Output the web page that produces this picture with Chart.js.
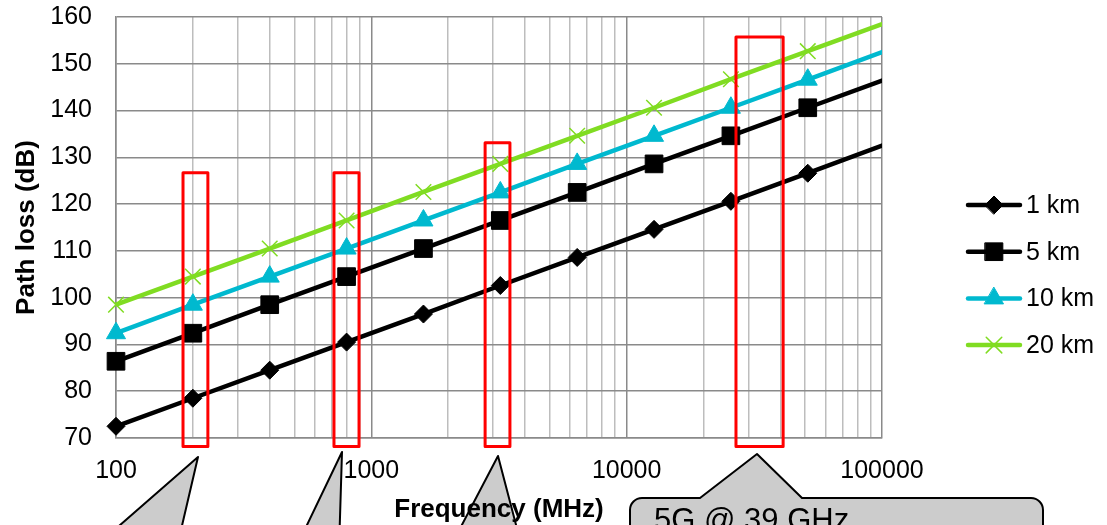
<!DOCTYPE html>
<html>
<head>
<meta charset="utf-8">
<style>
  html, body { margin: 0; padding: 0; background: #fff; }
  #wrap { width: 1107px; height: 525px; }
</style>
<script src="https://cdn.jsdelivr.net/npm/chart.js@4.4.1/dist/chart.umd.min.js"></script>
</head>
<body>
<div id="wrap"><canvas id="chart" width="1107" height="525"></canvas></div>
<script>
// data
const frequencies = [100, 200, 400, 800, 1600, 3200, 6400, 12800, 25600, 51200, 102400];
const seriesNames = ["1 km", "5 km", "10 km", "20 km"];
const loss1km = [72.5, 78.5, 84.5, 90.5, 96.5, 102.6, 108.6, 114.6, 120.6, 126.6, 132.7];
const loss5km = [86.4, 92.4, 98.5, 104.5, 110.5, 116.5, 122.5, 128.6, 134.6, 140.6, 146.6];
const loss10km = [92.4, 98.5, 104.5, 110.5, 116.5, 122.5, 128.6, 134.6, 140.6, 146.6, 152.7];
const loss20km = [98.5, 104.5, 110.5, 116.5, 122.6, 128.6, 134.6, 140.6, 146.7, 152.7, 158.7];
const yTickValues = [70, 80, 90, 100, 110, 120, 130, 140, 150, 160];
const xTickLabels = [100, 1000, 10000, 100000];

// highlighted bands (MHz from, MHz to, top in dB)
const bandFrom = [183, 714, 2790, 26800];
const bandTo = [229, 895, 3490, 41000];
const bandTop = [126.7, 126.7, 133.1, 155.7];

const FONT = '"Liberation Sans", Arial, sans-serif';
const MAJOR = "#8a8a8a";
const MINOR = "#bdbdbd";
const X_MIN = 100;
const X_MAX = 100000;

const styles = [
  { color: "#000000", pointStyle: "rectRot", radius: 9, border: 1 },
  { color: "#000000", pointStyle: "rect", radius: 12.5, border: 1 },
  { color: "#00b9cf", pointStyle: "triangle", radius: 11, border: 1 },
  { color: "#80dc22", pointStyle: "crossRot", radius: 11, border: 1.5 },
];

function xGridValues() {
  const values = [];
  for (let decade = X_MIN; decade < X_MAX; decade *= 10) {
    for (let m = 1; m < 10; m++) values.push(decade * m);
  }
  values.push(X_MAX);
  return values;
}

function makeDataset(index, values) {
  const s = styles[index];
  return {
    label: seriesNames[index],
    data: frequencies.map((f, i) => ({ x: f, y: values[i] })),
    borderColor: s.color,
    backgroundColor: s.color,
    borderWidth: 4.5,
    pointStyle: s.pointStyle,
    pointRadius: (ctx) => (ctx.raw && ctx.raw.x > X_MAX ? 0 : s.radius),
    pointHoverRadius: 0,
    pointBorderWidth: s.border,
    pointBackgroundColor: s.color,
    pointBorderColor: s.color,
    tension: 0,
    clip: { left: false, top: false, right: 0, bottom: false },
  };
}

function drawMarker(ctx, s, x, y) {
  ctx.save();
  ctx.fillStyle = s.color;
  ctx.strokeStyle = s.color;
  ctx.lineWidth = s.border;
  if (Chart.helpers && Chart.helpers.drawPoint) {
    Chart.helpers.drawPoint(ctx, { pointStyle: s.pointStyle, radius: s.radius, rotation: 0, borderWidth: s.border }, x, y);
  }
  ctx.restore();
}

const extras = {
  id: "extras",
  beforeDraw(chart) {
    const ctx = chart.ctx;
    ctx.save();
    ctx.fillStyle = "#cccccc";
    ctx.strokeStyle = "#000000";
    ctx.lineWidth = 2;
    ctx.lineJoin = "round";

    // pointer tails of the callouts whose boxes sit below the picture
    const tails = [
      [[198, 457], [80, 560], [174, 560]],
      [[342, 452], [295, 550], [339, 550]],
      [[498, 456], [454, 540], [520, 540]],
    ];
    tails.forEach(([tip, left, right]) => {
      ctx.beginPath();
      ctx.moveTo(left[0], left[1]);
      ctx.lineTo(tip[0], tip[1]);
      ctx.lineTo(right[0], right[1]);
      ctx.closePath();
      ctx.fill();
      ctx.beginPath();
      ctx.moveTo(left[0], left[1]);
      ctx.lineTo(tip[0], tip[1]);
      ctx.lineTo(right[0], right[1]);
      ctx.stroke();
    });

    // 5G callout
    const l = 630, t = 498, r = 1043, b = 580, rad = 12;
    ctx.beginPath();
    ctx.moveTo(l + rad, t);
    ctx.lineTo(700, t);
    ctx.lineTo(757, 454);
    ctx.lineTo(802, t);
    ctx.lineTo(r - rad, t);
    ctx.arcTo(r, t, r, t + rad, rad);
    ctx.lineTo(r, b);
    ctx.lineTo(l, b);
    ctx.lineTo(l, t + rad);
    ctx.arcTo(l, t, l + rad, t, rad);
    ctx.closePath();
    ctx.fill();
    ctx.stroke();

    ctx.fillStyle = "#000000";
    ctx.font = `31px ${FONT}`;
    ctx.textBaseline = "alphabetic";
    ctx.textAlign = "left";
    ctx.fillText("5G @ 39 GHz", 654, 530);
    ctx.restore();
  },
  afterDatasetsDraw(chart) {
    const ctx = chart.ctx;
    const xs = chart.scales.x;
    const ys = chart.scales.y;
    ctx.save();
    ctx.strokeStyle = "#ff0000";
    ctx.lineWidth = 3;
    ctx.lineJoin = "round";
    bandFrom.forEach((from, i) => {
      const x1 = xs.getPixelForValue(from);
      const x2 = xs.getPixelForValue(bandTo[i]);
      const y1 = ys.getPixelForValue(bandTop[i]);
      const y2 = chart.chartArea.bottom + 8.5;
      ctx.strokeRect(x1, y1, x2 - x1, y2 - y1);
    });
    ctx.restore();
  },
  afterDraw(chart) {
    const ctx = chart.ctx;
    const area = chart.chartArea;
    ctx.save();
    ctx.fillStyle = "#000000";
    ctx.textAlign = "center";
    ctx.textBaseline = "middle";
    ctx.font = `bold 26px ${FONT}`;
    ctx.fillText("Frequency (MHz)", (area.left + area.right) / 2, 510);
    ctx.translate(27, (area.top + area.bottom) / 2);
    ctx.rotate(-Math.PI / 2);
    ctx.fillText("Path loss (dB)", 0, 0);
    ctx.restore();

    // legend
    ctx.save();
    ctx.font = `25px ${FONT}`;
    ctx.textBaseline = "middle";
    ctx.textAlign = "left";
    chart.data.datasets.forEach((ds, i) => {
      const s = styles[i];
      const y = 205 + i * 46.7;
      ctx.strokeStyle = s.color;
      ctx.lineWidth = 4.5;
      ctx.lineCap = "round";
      ctx.beginPath();
      ctx.moveTo(968, y);
      ctx.lineTo(1020, y);
      ctx.stroke();
      drawMarker(ctx, s, 994, y);
      ctx.fillStyle = "#000000";
      ctx.fillText(ds.label, 1026, y + 1);
    });
    ctx.restore();
  },
};

Chart.defaults.font.family = FONT;
Chart.defaults.color = "#000000";

new Chart(document.getElementById("chart"), {
  type: "line",
  data: {
    datasets: [
      makeDataset(0, loss1km),
      makeDataset(1, loss5km),
      makeDataset(2, loss10km),
      makeDataset(3, loss20km),
    ],
  },
  options: {
    responsive: false,
    devicePixelRatio: 1,
    animation: false,
    events: [],
    layout: { padding: { left: 0, right: 225, top: 17, bottom: 0 } },
    plugins: { legend: { display: false }, tooltip: { enabled: false } },
    scales: {
      x: {
        type: "logarithmic",
        min: X_MIN,
        max: X_MAX,
        afterBuildTicks: (scale) => {
          scale.ticks = xGridValues().map((v) => ({ value: v }));
        },
        afterFit: (scale) => {
          scale.height = 87;
          scale.paddingTop = 0;
          scale.paddingBottom = 0;
          scale.paddingLeft = 0;
          scale.paddingRight = 0;
        },
        grid: {
          drawTicks: false,
          lineWidth: 1.5,
          color: (ctx) => (ctx.tick && xTickLabels.includes(ctx.tick.value) ? MAJOR : MINOR),
        },
        border: { display: true, color: MAJOR, width: 1.5 },
        ticks: {
          autoSkip: false,
          maxRotation: 0,
          padding: 18,
          font: { size: 25 },
          color: "#000000",
          callback: (value) => (xTickLabels.includes(value) ? String(value) : ""),
        },
      },
      y: {
        type: "linear",
        min: 70,
        max: 160,
        afterBuildTicks: (scale) => {
          scale.ticks = yTickValues.map((v) => ({ value: v }));
        },
        afterFit: (scale) => {
          scale.width = 116;
          scale.paddingTop = 0;
          scale.paddingBottom = 0;
          scale.paddingLeft = 0;
          scale.paddingRight = 0;
        },
        grid: { drawTicks: false, lineWidth: 1.5, color: MAJOR },
        border: { display: true, color: MAJOR, width: 1.5 },
        ticks: { padding: 24, font: { size: 25 }, color: "#000000" },
      },
    },
  },
  plugins: [extras],
});
</script>
</body>
</html>
